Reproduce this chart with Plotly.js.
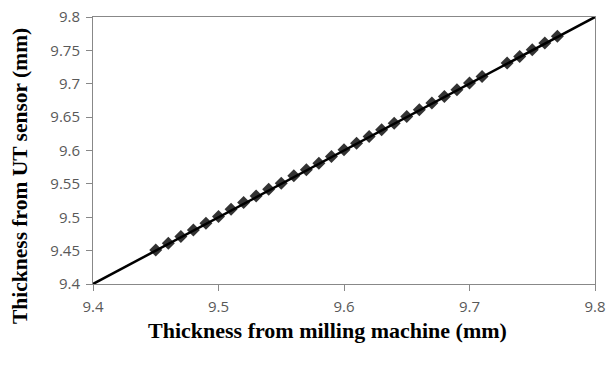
<!DOCTYPE html>
<html>
<head>
<meta charset="utf-8">
<script src="https://cdn.plot.ly/plotly-3.0.1.min.js"></script>
<style>html,body{margin:0;padding:0;background:#fff;}#chart{width:615px;height:368px;}</style>
</head>
<body>
<div id="chart"></div>
<script>
// Measured points (milling machine vs UT sensor), mm
const millingThickness = [9.45, 9.46, 9.47, 9.48, 9.49, 9.50, 9.51, 9.52, 9.53, 9.54,
  9.55, 9.56, 9.57, 9.58, 9.59, 9.60, 9.61, 9.62, 9.63, 9.64,
  9.65, 9.66, 9.67, 9.68, 9.69, 9.70, 9.71, 9.73, 9.74, 9.75, 9.76, 9.77];
const utThickness = [9.451, 9.461, 9.471, 9.481, 9.491, 9.501, 9.512, 9.522, 9.532, 9.542,
  9.551, 9.562, 9.571, 9.581, 9.591, 9.601, 9.611, 9.621, 9.631, 9.641,
  9.651, 9.661, 9.671, 9.681, 9.691, 9.701, 9.711, 9.731, 9.741, 9.751, 9.761, 9.771];
// Reference line y = x
const lineX = [9.4, 9.8];
const lineY = [9.4, 9.8];
const xTicks = [9.4, 9.5, 9.6, 9.7, 9.8];
const xTickText = ["9.4", "9.5", "9.6", "9.7", "9.8"];
const yTicks = [9.4, 9.45, 9.5, 9.55, 9.6, 9.65, 9.7, 9.75, 9.8];
const yTickText = ["9.4", "9.45", "9.5", "9.55", "9.6", "9.65", "9.7", "9.75", "9.8"];
const xTitle = 'Thickness from milling machine (mm)';
const yTitle = 'Thickness from UT sensor (mm)';

const traces = [
  {x: millingThickness, y: utThickness, type: 'scatter', mode: 'markers',
   marker: {symbol: 'diamond', size: 10, color: '#333333'}, hoverinfo: 'x+y'},
  {x: lineX, y: lineY, type: 'scatter', mode: 'lines',
   line: {color: '#000000', width: 2.5}}
];

const tickFont = {family: 'Open Sans, sans-serif', size: 15, color: '#595959'};
const xTitleFont = {family: 'Liberation Serif, serif', size: 22, color: '#000000', weight: 'bold'};
const yTitleFont = {family: 'Liberation Serif, serif', size: 21.5, color: '#000000', weight: 'bold'};

const layout = {
  width: 615, height: 368,
  margin: {l: 93, r: 20, t: 17, b: 84},
  paper_bgcolor: '#ffffff', plot_bgcolor: '#ffffff',
  showlegend: false,
  xaxis: {
    range: [9.4, 9.8], tickvals: xTicks, ticktext: xTickText,
    showgrid: false, zeroline: false, showline: true, mirror: true,
    linecolor: '#888888', linewidth: 1,
    ticks: 'outside', ticklen: 6, tickcolor: '#888888',
    ticklabelstandoff: 3,
    tickfont: tickFont
  },
  yaxis: {
    range: [9.4, 9.8], tickvals: yTicks, ticktext: yTickText,
    showgrid: false, zeroline: false, showline: true, mirror: true,
    linecolor: '#888888', linewidth: 1,
    ticks: 'outside', ticklen: 6, tickcolor: '#888888',
    ticklabelstandoff: 3,
    tickfont: tickFont
  },
  annotations: [
    {text: xTitle, font: xTitleFont, xref: 'paper', yref: 'paper',
     x: 0.468, y: -0.176, xanchor: 'center', yanchor: 'middle', showarrow: false},
    {text: yTitle, font: yTitleFont, xref: 'paper', yref: 'paper', textangle: -90,
     x: -0.1454, y: 0.4045, xanchor: 'center', yanchor: 'middle', showarrow: false}
  ]
};

Plotly.newPlot('chart', traces, layout, {displayModeBar: false, staticPlot: true});
</script>
</body>
</html>
